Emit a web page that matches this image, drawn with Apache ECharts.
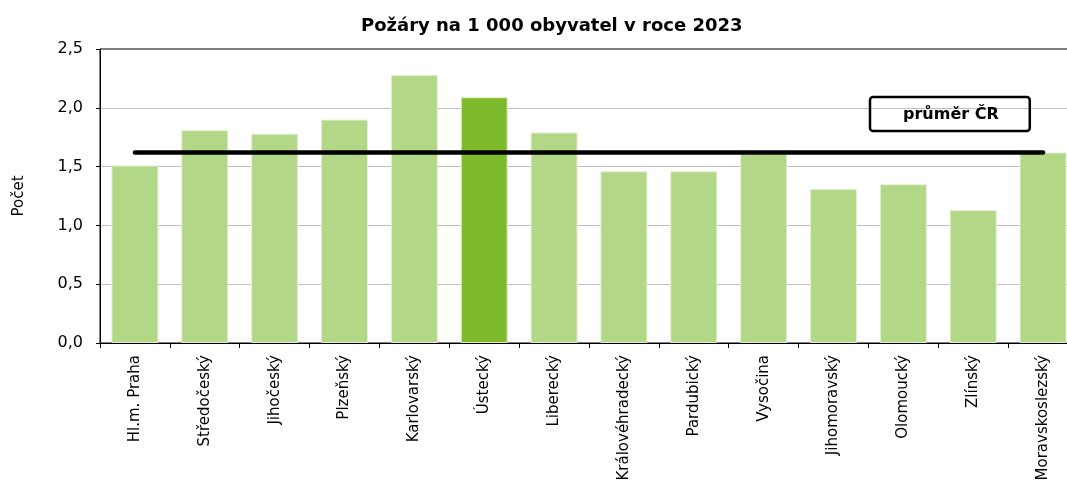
<!DOCTYPE html>
<html>
<head>
<meta charset="utf-8">
<script src="https://cdn.jsdelivr.net/npm/echarts@6/dist/echarts.min.js"></script>
<style>
html,body{margin:0;padding:0;background:#fff;}
#c{width:1067px;height:485px;}
</style>
</head>
<body>
<div id="c"></div>
<script>
const categories = ['Hl.m. Praha','Středočeský','Jihočeský','Plzeňský','Karlovarský','Ústecký','Liberecký','Královéhradecký','Pardubický','Vysočina','Jihomoravský','Olomoucký','Zlínský','Moravskoslezský'];
const values = [1.51, 1.81, 1.78, 1.90, 2.28, 2.09, 1.79, 1.46, 1.46, 1.61, 1.31, 1.35, 1.13, 1.62];
const highlighted = 'Ústecký';
const averageCR = 1.62;
const averageName = 'průměr ČR';
const titleText = 'Požáry na 1 000 obyvatel v roce 2023';
const yName = 'Počet';

const FONT = '"DejaVu Sans", "Liberation Sans", Arial, sans-serif';
const chart = echarts.init(document.getElementById('c'));
chart.setOption({
  animation: false,
  backgroundColor: '#fff',
  textStyle: { fontFamily: FONT, color: '#000' },
  title: {
    text: titleText, left: 356, top: 12,
    textStyle: { fontFamily: FONT, fontSize: 18, fontWeight: 'bold', color: '#000' }
  },
  legend: {
    data: [averageName],
    left: 870, top: 97,
    itemWidth: 0, itemHeight: 0,
    padding: [10, 31, 8, 27],
    borderColor: '#000', borderWidth: 2.5, borderRadius: 3,
    selectedMode: false,
    textStyle: { fontFamily: FONT, fontSize: 16, fontWeight: 'bold', color: '#000' }
  },
  grid: { left: 100, top: 49, width: 978, height: 294, outerBoundsMode: 'none', show: true, borderColor: '#000', borderWidth: 1, backgroundColor: 'transparent' },
  xAxis: {
    type: 'category', data: categories,
    axisLine: { lineStyle: { color: '#000', width: 1 } },
    axisTick: { show: true, length: 5, lineStyle: { color: '#000' } },
    axisLabel: { rotate: 90, interval: 0, margin: 12, fontSize: 15, color: '#000', fontFamily: FONT }
  },
  yAxis: {
    type: 'value', min: 0, max: 2.5, interval: 0.5,
    name: yName, nameLocation: 'middle', nameGap: 73,
    nameTextStyle: { fontSize: 15, color: '#000', fontFamily: FONT },
    axisLine: { show: true, lineStyle: { color: '#000', width: 1 } },
    axisTick: { show: true, length: 4, lineStyle: { color: '#000' } },
    axisLabel: { fontSize: 16, color: '#000', margin: 17, fontFamily: FONT, formatter: v => v.toFixed(1).replace('.', ',') },
    splitLine: { showMinLine: false, showMaxLine: false, lineStyle: { color: '#c0c0c0', width: 1 } }
  },
  series: [
    {
      type: 'bar', barWidth: 47,
      data: values.map((v, i) => ({
        value: v,
        itemStyle: { color: categories[i] === highlighted ? '#7fba2d' : '#b2d786' }
      })),
      itemStyle: { borderColor: '#e3f0d2', borderWidth: 1 }
    },
    {
      name: averageName, type: 'line',
      data: categories.map(() => averageCR),
      symbol: 'none',
      lineStyle: { color: '#000', width: 4.5, cap: 'round' },
      itemStyle: { color: '#000' },
      z: 5
    }
  ]
});
</script>
</body>
</html>
